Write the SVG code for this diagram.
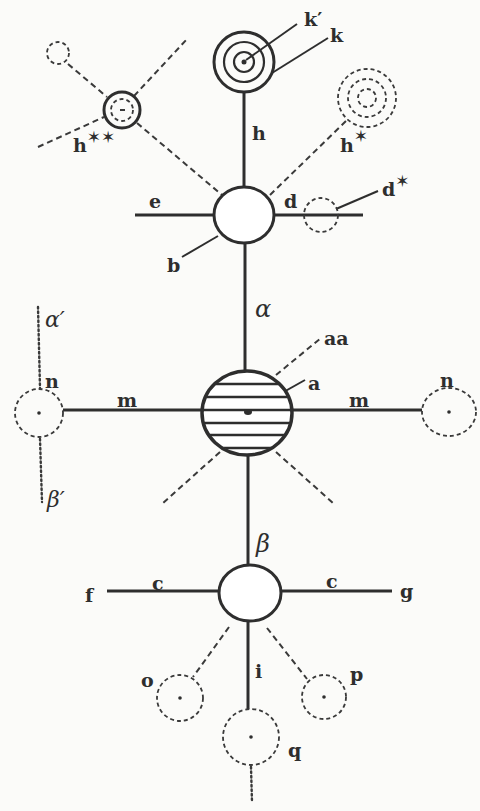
<svg xmlns="http://www.w3.org/2000/svg" width="480" height="811" viewBox="0 0 480 811">
<defs>
<style>
.bg{fill:#fbfbf9}
.solid{stroke:#2e2e2e;stroke-width:3;fill:none}
.thin{stroke:#2e2e2e;stroke-width:2;fill:none}
.dash{stroke:#3a3a3a;stroke-width:2;stroke-dasharray:6 4;fill:none}
.dot{stroke:#3a3a3a;stroke-width:2.4;stroke-dasharray:1.5 3;stroke-linecap:round;fill:none}
.node{fill:#fff;stroke:#2e2e2e;stroke-width:3}
.onode{fill:none;stroke:#2e2e2e;stroke-width:3}
.dnode{fill:none;stroke:#3a3a3a;stroke-width:1.8;stroke-dasharray:4 3}
.ring{fill:none;stroke:#2e2e2e;stroke-width:2.2}
.c{fill:#2e2e2e}
.lbl{font-family:"DejaVu Serif","Liberation Serif",serif;font-weight:bold;font-size:19px;fill:#2e2e2e}
.gr{font-family:"DejaVu Serif","Liberation Serif",serif;font-style:italic;font-size:24px;fill:#2e2e2e}
.st{font-family:"DejaVu Sans",sans-serif;font-size:17px;fill:#2e2e2e}
</style>
<clipPath id="clipA"><ellipse cx="247" cy="413" rx="44" ry="41"/></clipPath>
</defs>
<rect class="bg" x="0" y="0" width="480" height="811"/>

<g id="connectors">
<line class="solid" x1="244" y1="91" x2="244" y2="187"/>
<line class="solid" x1="245" y1="243" x2="245" y2="371"/>
<line class="solid" x1="248" y1="455" x2="248" y2="565"/>
<line class="solid" x1="248" y1="621" x2="248" y2="709"/>
<line class="solid" x1="135" y1="215" x2="214" y2="215"/>
<line class="solid" x1="274" y1="215" x2="363" y2="215"/>
<line class="thin" x1="218" y1="236" x2="182" y2="257"/>
<line class="thin" x1="336" y1="209" x2="378" y2="191"/>
<line class="thin" x1="246" y1="60" x2="297" y2="24"/>
<line class="thin" x1="272" y1="73" x2="328" y2="38"/>
<line class="dash" x1="68" y1="64" x2="107" y2="97"/>
<line class="dash" x1="137" y1="123" x2="222" y2="195"/>
<line class="dash" x1="38" y1="147" x2="104" y2="117"/>
<line class="dash" x1="134" y1="96" x2="188" y2="38"/>
<line class="dash" x1="270" y1="195" x2="346" y2="121"/>
<line class="dash" x1="276" y1="375" x2="321" y2="338"/>
<line class="thin" x1="248" y1="412" x2="305" y2="380"/>
<line class="dash" x1="276" y1="452" x2="333" y2="503"/>
<line class="dash" x1="220" y1="452" x2="163" y2="503"/>
<line class="solid" x1="63" y1="410" x2="202" y2="410"/>
<line class="solid" x1="293" y1="410" x2="422" y2="410"/>
<line class="dot" x1="38" y1="307" x2="40" y2="388"/>
<line class="dot" x1="40" y1="439" x2="42" y2="502"/>
<line class="solid" x1="107" y1="591" x2="219" y2="591"/>
<line class="solid" x1="282" y1="591" x2="392" y2="591"/>
<line class="dash" x1="229" y1="627" x2="193" y2="677"/>
<line class="dash" x1="267" y1="628" x2="307" y2="679"/>
<line class="dot" x1="251" y1="767" x2="252" y2="802"/>
</g>

<g id="node-k">
<circle class="onode" cx="244" cy="62" r="30"/>
<circle class="ring" cx="244" cy="62" r="20"/>
<circle class="ring" cx="244" cy="62" r="10"/>
<circle class="c" cx="244" cy="62" r="2.5"/>
</g>

<g id="node-small-tl">
<circle class="dnode" cx="58" cy="53" r="11"/>
</g>

<g id="node-hss">
<circle class="onode" cx="122" cy="110" r="18"/>
<circle class="dnode" cx="122" cy="110" r="11"/>
<line x1="120" y1="110" x2="125" y2="110" stroke="#3a3a3a" stroke-width="2"/>
</g>

<g id="node-hs">
<circle class="dnode" cx="367" cy="98" r="29"/>
<circle class="dnode" cx="367" cy="98" r="19"/>
<circle class="dnode" cx="367" cy="98" r="9"/>
</g>

<g id="node-b">
<ellipse class="node" cx="244" cy="215" rx="30" ry="28"/>
</g>

<g id="node-ds">
<circle class="dnode" cx="321" cy="215" r="17"/>
</g>

<g id="node-a">
<ellipse cx="247" cy="413" rx="45" ry="42" fill="#fff"/>
<g clip-path="url(#clipA)" stroke="#2e2e2e" stroke-width="2.4">
<line x1="200" y1="384" x2="295" y2="384"/>
<line x1="200" y1="397" x2="295" y2="397"/>
<line x1="200" y1="410" x2="295" y2="410"/>
<line x1="200" y1="423" x2="295" y2="423"/>
<line x1="200" y1="435" x2="295" y2="435"/>
<line x1="200" y1="448" x2="295" y2="448"/>
</g>
<ellipse cx="247" cy="413" rx="45" ry="42" fill="none" stroke="#2e2e2e" stroke-width="3.5"/>
<ellipse class="c" cx="248" cy="412" rx="4" ry="3"/>
</g>

<g id="node-n-left">
<circle class="dnode" cx="39" cy="413" r="24"/>
<circle class="c" cx="39" cy="413" r="1.8"/>
</g>

<g id="node-n-right">
<ellipse class="dnode" cx="449" cy="412" rx="27" ry="24"/>
<circle class="c" cx="449" cy="412" r="1.8"/>
</g>

<g id="node-c">
<ellipse class="node" cx="250" cy="593" rx="31" ry="28"/>
</g>

<g id="node-o">
<circle class="dnode" cx="180" cy="698" r="23"/>
<circle class="c" cx="180" cy="698" r="1.8"/>
</g>

<g id="node-p">
<circle class="dnode" cx="324" cy="697" r="22"/>
<circle class="c" cx="324" cy="697" r="1.8"/>
</g>

<g id="node-q">
<circle class="dnode" cx="251" cy="737" r="28"/>
<circle class="c" cx="251" cy="737" r="1.8"/>
</g>

<g id="labels">
<text class="lbl" x="304" y="26">k′</text>
<text class="lbl" x="330" y="42">k</text>
<text class="lbl" x="252" y="140">h</text>
<text class="lbl" x="73" y="152">h<tspan class="st" dy="-9">✶✶</tspan></text>
<text class="lbl" x="340" y="152">h<tspan class="st" dy="-10">✶</tspan></text>
<text class="lbl" x="149" y="208">e</text>
<text class="lbl" x="284" y="208">d</text>
<text class="lbl" x="382" y="196">d<tspan class="st" dy="-9">✶</tspan></text>
<text class="lbl" x="167" y="272">b</text>
<text class="gr" x="255" y="317">α</text>
<text class="lbl" x="324" y="345">aa</text>
<text class="lbl" x="308" y="390">a</text>
<text class="lbl" x="117" y="407">m</text>
<text class="lbl" x="349" y="407">m</text>
<text class="lbl" x="45" y="388">n</text>
<text class="lbl" x="440" y="387">n</text>
<text class="gr" x="45" y="327" style="font-size:22px">α′</text>
<text class="gr" x="47" y="507" style="font-size:22px">β′</text>
<text class="gr" x="256" y="552">β</text>
<text class="lbl" x="85" y="602">f</text>
<text class="lbl" x="152" y="590">c</text>
<text class="lbl" x="326" y="588">c</text>
<text class="lbl" x="400" y="598">g</text>
<text class="lbl" x="255" y="678">i</text>
<text class="lbl" x="141" y="687">o</text>
<text class="lbl" x="350" y="681">p</text>
<text class="lbl" x="288" y="757">q</text>
</g>
</svg>
